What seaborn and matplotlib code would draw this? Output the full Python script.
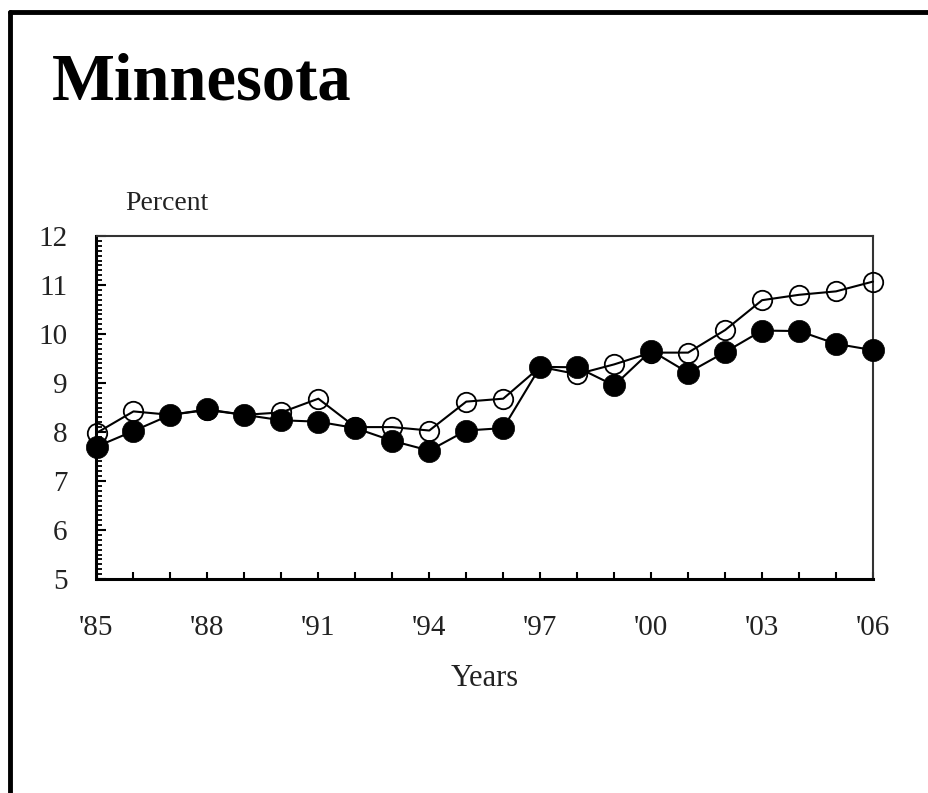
import matplotlib
matplotlib.use("Agg")
import matplotlib.pyplot as plt
import seaborn as sns
import pandas as pd
from matplotlib.ticker import MultipleLocator, FixedLocator
from matplotlib.lines import Line2D

years = list(range(1985, 2007))
open_vals = [7.98, 8.42, 8.35, 8.45, 8.35, 8.40, 8.68, 8.10, 8.10, 8.03, 8.62, 8.68,
             9.33, 9.18, 9.38, 9.62, 9.62, 10.08, 10.69, 10.80, 10.87, 11.07]
filled_vals = [7.70, 8.02, 8.35, 8.46, 8.35, 8.24, 8.21, 8.08, 7.82, 7.62, 8.03, 8.08,
               9.33, 9.32, 8.95, 9.66, 9.21, 9.63, 10.07, 10.06, 9.80, 9.67]
tick_years = [1985, 1988, 1991, 1994, 1997, 2000, 2003, 2006]
tick_labels = ["'85", "'88", "'91", "'94", "'97", "'00", "'03", "'06"]
y_ticks = [5, 6, 7, 8, 9, 10, 11, 12]

sns.set_style("white")
plt.rcParams['font.family'] = ['Liberation Serif', 'DejaVu Serif']

W, H = 929, 793
fig = plt.figure(figsize=(W / 100, H / 100), dpi=100)
ax = fig.add_axes([96.5 / W, 1 - 579 / H, (873 - 96.5) / W, (579 - 236) / H])

df = pd.DataFrame({"year": years, "open": open_vals, "filled": filled_vals})

sns.lineplot(data=df, x="year", y="open", ax=ax, color="black", linewidth=1.5,
             marker="o", markersize=14, markerfacecolor="none",
             markeredgecolor="black", markeredgewidth=1.3, clip_on=False, zorder=3)
sns.lineplot(data=df, x="year", y="filled", ax=ax, color="black", linewidth=1.5,
             marker="o", markersize=16, markerfacecolor="black",
             markeredgecolor="black", markeredgewidth=0.5, clip_on=False, zorder=4)

ax.set_xlim(1985, 2006)
ax.set_ylim(5, 12)
ax.xaxis.set_major_locator(FixedLocator(tick_years))
ax.set_xticklabels(tick_labels)
ax.xaxis.set_minor_locator(MultipleLocator(1))
ax.yaxis.set_major_locator(FixedLocator(y_ticks))
ax.set_yticklabels([str(v) for v in y_ticks])
ax.yaxis.set_minor_locator(MultipleLocator(0.1))

ax.tick_params(axis="x", which="both", direction="in", length=5, width=1.5,
               colors="black", bottom=True, top=False, labelsize=21, pad=26)
ax.tick_params(axis="y", which="major", direction="in", length=7, width=1.5,
               colors="black", left=True, right=False, labelsize=21, pad=21)
ax.tick_params(axis="y", which="minor", direction="in", length=4.5, width=1.3,
               colors="black", left=True, right=False)
for lab in ax.get_xticklabels() + ax.get_yticklabels():
    lab.set_color("#222222")

for side in ["left", "bottom"]:
    ax.spines[side].set_linewidth(2.2)
    ax.spines[side].set_color("black")
for side in ["top", "right"]:
    ax.spines[side].set_linewidth(1.5)
    ax.spines[side].set_color("#333333")
    ax.spines[side].set_visible(True)

ax.set_xlabel("")
ax.set_ylabel("")
ax.grid(False)

fig.text(52 / W, 1 - 100 / H, "Minnesota", fontsize=48, fontweight="bold",
         ha="left", va="baseline", color="black")
fig.text(125 / W, 1 - 210 / H, "Percent", fontsize=20, ha="left", va="baseline",
         color="#222222")
fig.text(485 / W, 1 - 686 / H, "Years", fontsize=22, ha="center", va="baseline",
         color="#222222")

# outer frame (left and top edges visible)
fig.add_artist(Line2D([10 / W, 10 / W], [0, 1 - 12 / H], transform=fig.transFigure,
                      color="black", linewidth=3.5))
fig.add_artist(Line2D([10 / W, 1], [1 - 12 / H, 1 - 12 / H], transform=fig.transFigure,
                      color="black", linewidth=3.5))

fig.savefig("out.png", dpi=100)
